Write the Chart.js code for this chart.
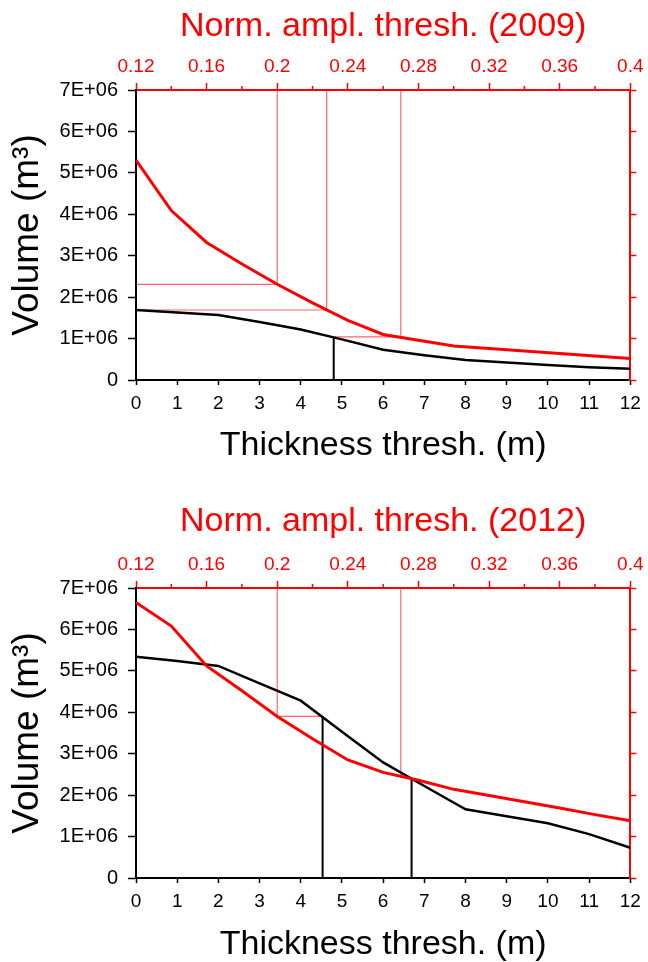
<!DOCTYPE html>
<html>
<head>
<meta charset="utf-8">
<script src="https://cdn.jsdelivr.net/npm/chart.js@4.4.1/dist/chart.umd.min.js"></script>
<style>
  html, body { margin: 0; padding: 0; background: #fff; }
  .wrap { position: absolute; left: 0; width: 648px; height: 481px; }
  #w1 { top: 0; }
  #w2 { top: 481px; }
  canvas { display: block; }
</style>
</head>
<body>
<div class="wrap" id="w1"><canvas id="c1" width="648" height="481"></canvas></div>
<div class="wrap" id="w2"><canvas id="c2" width="648" height="481"></canvas></div>
<script>
// thickness threshold (m), bottom axis
const thickness = [0, 1, 2, 3, 4, 5, 6, 7, 8, 9, 10, 11, 12];
// normalised amplitude threshold, top axis
const amplitude = [0.12, 0.14, 0.16, 0.18, 0.2, 0.22, 0.24, 0.26, 0.28, 0.3, 0.32, 0.34, 0.36, 0.38, 0.4];

// volumes (m3)
const vol2009Thick = [1.69e6, 1.63e6, 1.57e6, 1.40e6, 1.22e6, 0.98e6, 0.73e6, 0.60e6, 0.48e6, 0.42e6, 0.36e6, 0.31e6, 0.27e6];
const vol2009Ampl = [5.31e6, 4.09e6, 3.32e6, 2.80e6, 2.31e6, 1.86e6, 1.44e6, 1.10e6, 0.96e6, 0.82e6, 0.76e6, 0.70e6, 0.64e6, 0.58e6, 0.52e6];
const vol2012Thick = [5.34e6, 5.24e6, 5.12e6, 4.70e6, 4.28e6, 3.53e6, 2.79e6, 2.22e6, 1.66e6, 1.49e6, 1.32e6, 1.06e6, 0.73e6];
const vol2012Ampl = [6.65e6, 6.08e6, 5.12e6, 4.52e6, 3.90e6, 3.36e6, 2.85e6, 2.55e6, 2.36e6, 2.14e6, 1.99e6, 1.84e6, 1.69e6, 1.53e6, 1.38e6];

// guide lines: red vertical from top at an amplitude down to a volume,
// then horizontal over to a thickness; black vertical from 0 up to a volume
const guideAmpl2009 = [0.2, 0.228, 0.27];
const guideVol2009 = [2.31e6, 1.69e6, 1.04e6];
const guideToThick2009 = [0, 0, 4.8];
const blackThick2009 = [4.8];
const blackVol2009 = [1.03e6];

const guideAmpl2012 = [0.2, 0.27];
const guideVol2012 = [3.90e6, 2.43e6];
const guideToThick2012 = [4.53, 6.69];
const blackThick2012 = [4.53, 6.69];
const blackVol2012 = [3.90e6, 2.40e6];

const yTicks = ["0", "1E+06", "2E+06", "3E+06", "4E+06", "5E+06", "6E+06", "7E+06"];

Chart.defaults.font.family = "'Liberation Sans', Arial, sans-serif";
Chart.defaults.animation = false;

const RED = "#ff0000";
const GUIDE = "rgba(255,0,0,0.6)";

// thickness -> amplitude, both axes span the same width
const toAmpl = (t) => 0.12 + (t / 12) * 0.28;

const minorTicks = {
    id: "minorTicks",
    afterDraw(chart) {
        const s = chart.scales.xTop;
        const ctx = chart.ctx;
        ctx.save();
        ctx.strokeStyle = RED;
        ctx.lineWidth = 1.5;
        s.ticks.forEach((t, i) => {
            if (i % 2 === 1) {
                const px = s.getPixelForValue(t.value);
                ctx.beginPath();
                ctx.moveTo(px, chart.chartArea.top);
                ctx.lineTo(px, chart.chartArea.top - 4);
                ctx.stroke();
            }
        });
        ctx.restore();
    },
};

function makeChart(id, year, volThick, volAmpl, gAmpl, gVol, gThick, bThick, bVol, topH, titlePad, bottomPad) {
    const datasets = [
        {
            data: thickness.map((t, i) => ({ x: t, y: volThick[i] })),
            xAxisID: "x", yAxisID: "y",
            borderColor: "#000", borderWidth: 2.5, pointRadius: 0, order: 1,
        },
        {
            data: amplitude.map((a, i) => ({ x: a, y: volAmpl[i] })),
            xAxisID: "xTop", yAxisID: "y",
            borderColor: RED, borderWidth: 3, pointRadius: 0, order: 0,
        },
    ];
    gAmpl.forEach((a, i) => {
        datasets.push({
            data: [{ x: a, y: 7e6 }, { x: a, y: gVol[i] }, { x: toAmpl(gThick[i]), y: gVol[i] }],
            xAxisID: "xTop", yAxisID: "y",
            borderColor: GUIDE, borderWidth: 1.2, pointRadius: 0, order: 3,
        });
    });
    bThick.forEach((t, i) => {
        datasets.push({
            data: [{ x: t, y: 0 }, { x: t, y: bVol[i] }],
            xAxisID: "x", yAxisID: "y",
            borderColor: "#000", borderWidth: 2, pointRadius: 0, order: 2,
        });
    });

    return new Chart(document.getElementById(id), {
        type: "line",
        data: { datasets: datasets },
        options: {
            responsive: false,
            layout: { padding: 0 },
            plugins: { legend: { display: false }, tooltip: { enabled: false } },
            scales: {
                x: {
                    type: "linear", position: "bottom", min: 0, max: 12,
                    ticks: { stepSize: 1, autoSkip: false, maxRotation: 0, padding: 7, color: "#000", font: { size: 19 } },
                    grid: { drawOnChartArea: false, tickLength: 5, tickColor: "#000", tickWidth: 1.5 },
                    border: { color: "#000", width: 2 },
                    title: {
                        display: true, text: "Thickness thresh. (m)", color: "#000",
                        font: { size: 34, lineHeight: 1 }, padding: { top: 0, bottom: bottomPad },
                    },
                    afterFit(s) { s.height = 481 - topH - 290; },
                },
                xTop: {
                    type: "linear", position: "top", min: 0.12, max: 0.4,
                    ticks: {
                        stepSize: 0.02, autoSkip: false, maxRotation: 0, padding: 4.5, color: RED, font: { size: 19 },
                        callback: (v, i) => (i % 2 === 0 ? String(Math.round(v * 100) / 100) : ""),
                    },
                    grid: {
                        drawOnChartArea: false, tickLength: 7, tickWidth: 1.5,
                        tickColor: (c) => (c.index % 2 === 0 ? RED : "rgba(0,0,0,0)"),
                    },
                    border: { color: RED, width: 2 },
                    title: {
                        display: true, text: "Norm. ampl. thresh. (" + year + ")", color: RED,
                        font: { size: 34, lineHeight: 1 }, padding: { top: titlePad, bottom: 0 },
                    },
                    afterFit(s) { s.height = topH; },
                },
                y: {
                    type: "linear", position: "left", min: 0, max: 7e6,
                    ticks: {
                        stepSize: 1e6, padding: 10, color: "#000", font: { size: 20 },
                        callback: (v) => yTicks[Math.round(v / 1e6)],
                    },
                    grid: { drawOnChartArea: false, tickLength: 8, tickColor: "#000", tickWidth: 1.5 },
                    border: { color: "#000", width: 2 },
                    title: {
                        display: true, text: "Volume (m³)", color: "#000",
                        font: { size: 37, lineHeight: 1 }, padding: { top: 9.5, bottom: 0 },
                    },
                    afterFit(s) { s.width = 136; },
                },
                yR: {
                    type: "linear", position: "right", min: 0, max: 7e6,
                    ticks: { stepSize: 1e6, display: false },
                    grid: { drawOnChartArea: false, tickLength: 6, tickColor: RED, tickWidth: 1.5 },
                    border: { color: RED, width: 2 },
                    afterFit(s) { s.width = 15; },
                },
            },
        },
        plugins: [minorTicks],
    });
}

makeChart("c1", "2009", vol2009Thick, vol2009Ampl, guideAmpl2009, guideVol2009, guideToThick2009,
    blackThick2009, blackVol2009, 90, 10, 18);
makeChart("c2", "2012", vol2012Thick, vol2012Ampl, guideAmpl2012, guideVol2012, guideToThick2012,
    blackThick2012, blackVol2012, 107, 24, 0);
</script>
</body>
</html>
